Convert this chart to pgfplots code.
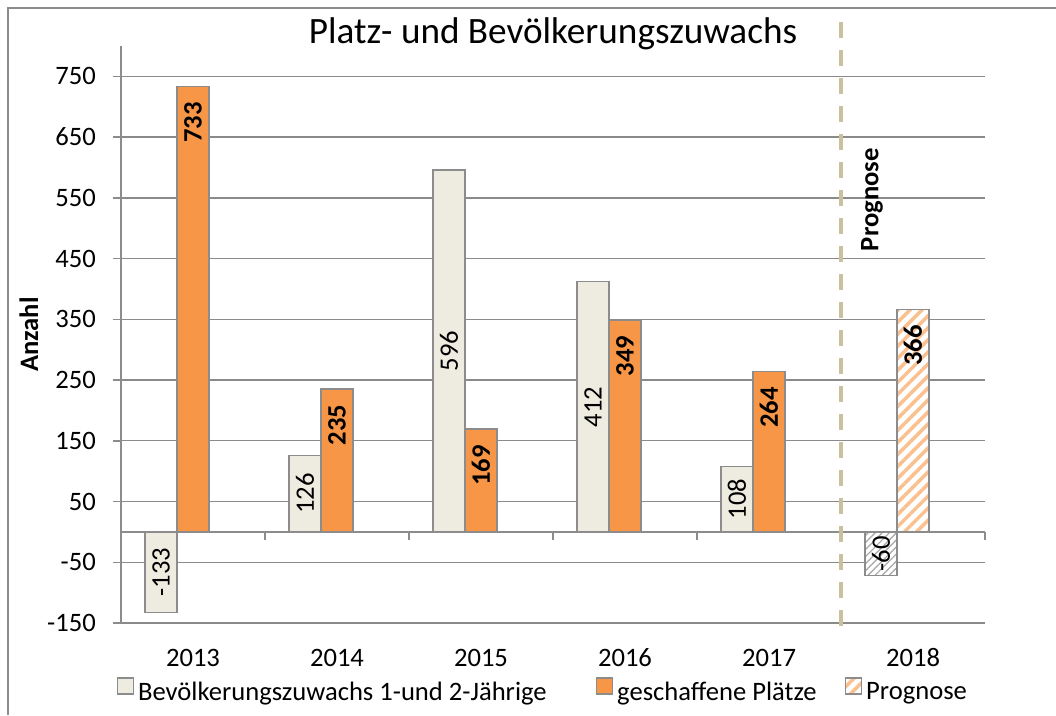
\documentclass[border=0pt]{standalone}
\usepackage{fontspec}
\setmainfont{Carlito}
\usepackage{pgfplots}
\pgfplotsset{compat=1.18}
\usetikzlibrary{patterns.meta}
\definecolor{beige}{HTML}{EEECE1}
\definecolor{orng}{HTML}{F79646}
\definecolor{bord}{HTML}{8C8C8C}
\definecolor{gridc}{HTML}{8A8A8A}
\definecolor{dashc}{HTML}{C9C19B}
\definecolor{hatcho}{HTML}{FAC090}
\definecolor{hatchg}{HTML}{A6A6A6}
\pgfplotsset{sqlegend/.style={legend image code/.code={\draw[##1, line width=1.5pt] (0pt,-1pt) rectangle (16pt,15pt);}}}
\begin{document}
\fontsize{26.6}{32}\selectfont
\begin{tikzpicture}
\useasboundingbox (0pt,0pt) rectangle (1056pt,715pt);
\draw[bord, line width=1.5pt] (8pt,0pt) -- (8pt,707pt) -- (1056pt,707pt);
\begin{axis}[
  at={(121pt,92pt)}, anchor=south west,
  scale only axis, width=864pt, height=577pt,
  xmin=0, xmax=6, ymin=-150, ymax=800,
  axis lines*=left,
  x axis line style={draw=none},
  y axis line style={bord, line width=1.5pt},
  xtick={0.5,1.5,2.5,3.5,4.5,5.5},
  xticklabels={2013,2014,2015,2016,2017,2018},
  xtick style={draw=none},
  ytick={-150,-50,50,150,250,350,450,550,650,750},
  yticklabels={-150,-50,50,150,250,350,450,550,650,750},
  ytick style={bord, line width=1.5pt},
  tick align=outside, major tick length=8pt,
  ymajorgrids, grid style={gridc, line width=1.4pt},
  xticklabel style={inner sep=0pt, anchor=base, yshift=-35pt},
  yticklabel style={inner sep=0pt, anchor=east, xshift=-17pt},
  ylabel={Anzahl},
  every axis y label/.style={at={(axis description cs:-0.1065,0.5)}, rotate=90, anchor=center, font=\bfseries},
  title={Platz- und Bevölkerungszuwachs},
  title style={at={(axis description cs:0.5,1.0104)}, anchor=center, inner sep=0pt, font=\fontsize{37.2}{44}\selectfont},
  clip=false,
  bar width=32pt,
  legend style={at={(axis description cs:0.4870,-0.1178)}, anchor=center, draw=none, fill=none,
    inner sep=0pt, nodes={inner sep=0pt},
    /tikz/every odd column/.style={column sep=4pt},
    /tikz/column 2/.style={column sep=49pt},
    /tikz/column 4/.style={column sep=28pt}},
  legend columns=-1,
]
% Bevoelkerungszuwachs
\addplot[ybar, bar shift=-32pt, fill=beige, draw=bord, line width=1.6pt,
  point meta=explicit symbolic,
  visualization depends on={\thisrow{y} \as \rawy},
  nodes near coords,
  every node near coord/.style={xshift=-32pt, yshift={-0.303684*(\rawy)*1pt}, rotate=90, anchor=center, inner sep=0pt, text=black},
  sqlegend]
  table[meta=lab] {
x y lab
0.5 -133 -133
1.5 126 126
2.5 596 596
3.5 412 412
4.5 108 108
};
\addlegendentry{Bevölkerungszuwachs 1-und 2-Jährige}
% geschaffene Plaetze
\addplot[ybar, bar shift=0pt, fill=orng, draw=bord, line width=1.6pt,
  point meta=explicit symbolic,
  nodes near coords,
  every node near coord/.style={rotate=90, anchor=east, inner sep=0pt, inner xsep=15pt, font=\bfseries, text=black},
  sqlegend]
  table[meta=lab] {
x y lab
0.5 733 733
1.5 235 235
2.5 169 169
3.5 349 349
4.5 264 264
};
\addlegendentry{geschaffene Plätze}
% Prognose
\addplot[ybar, bar shift=32pt, fill=white, draw=bord, line width=1.6pt,
  postaction={pattern={Lines[angle=45, distance=8.5pt, line width=3.5pt]}, pattern color=hatcho},
  sqlegend]
  coordinates {(0.5,0) (1.5,0) (2.5,0) (3.5,0) (4.5,0)};
\addlegendentry{Prognose}
% 2018 forecast bars
\addplot[ybar, bar shift=-32pt, fill=white, draw=bord, line width=1.6pt, forget plot,
  postaction={pattern={Lines[angle=45, distance=5pt, line width=1.2pt]}, pattern color=hatchg},
  point meta=explicit symbolic,
  visualization depends on={\thisrow{y} \as \rawy},
  nodes near coords,
  every node near coord/.style={xshift=-32pt, yshift={-0.303684*(\rawy)*1pt}, rotate=90, anchor=center, inner sep=0pt, text=black}]
  table[meta=lab] {
x y lab
5.5 -72 -60
};
\addplot[ybar, bar shift=0pt, fill=white, draw=bord, line width=1.6pt, forget plot,
  postaction={pattern={Lines[angle=45, distance=8.5pt, line width=3.5pt]}, pattern color=hatcho},
  point meta=explicit symbolic,
  nodes near coords,
  every node near coord/.style={rotate=90, anchor=east, inner sep=0pt, inner xsep=15pt, font=\bfseries, text=black}]
  table[meta=lab] {
x y lab
5.5 366 366
};
% zero line with category ticks
\draw[bord, line width=1.5pt] (axis cs:0,0) -- (axis cs:6,0);
\draw[bord, line width=1.5pt] (axis cs:1,0) -- ++(0pt,-8pt);
\draw[bord, line width=1.5pt] (axis cs:2,0) -- ++(0pt,-8pt);
\draw[bord, line width=1.5pt] (axis cs:3,0) -- ++(0pt,-8pt);
\draw[bord, line width=1.5pt] (axis cs:4,0) -- ++(0pt,-8pt);
\draw[bord, line width=1.5pt] (axis cs:5,0) -- ++(0pt,-8pt);
\draw[bord, line width=1.5pt] (axis cs:6,0) -- ++(0pt,-8pt);
% forecast divider
\draw[dashc, line width=4pt, dash pattern=on 16pt off 12pt] (axis cs:5,840) -- (axis cs:5,-158);
\node[rotate=90, font=\bfseries, inner sep=0pt] at (axis cs:5.215,547) {Prognose};
\end{axis}
\end{tikzpicture}
\end{document}
